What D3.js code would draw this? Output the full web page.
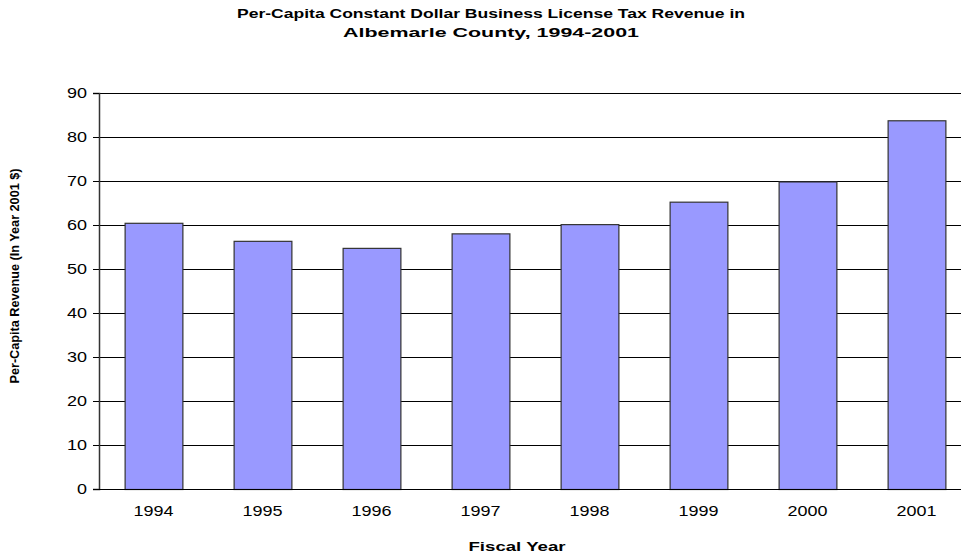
<!DOCTYPE html>
<html><head><meta charset="utf-8">
<script src="https://cdn.jsdelivr.net/npm/d3@7/dist/d3.min.js"></script>
<style>
html,body{margin:0;padding:0;background:#fff;}
svg{display:block;font-family:Arial,"Liberation Sans",sans-serif;}
</style></head>
<body><svg id="c" width="961" height="554"></svg>
<script>
const categories = ["1994","1995","1996","1997","1998","1999","2000","2001"];
const values = [60.5, 56.4, 54.8, 58.1, 60.2, 65.3, 69.9, 83.8];
const yTicks = [0,10,20,30,40,50,60,70,80,90];
const titleLines = ["Per-Capita Constant Dollar Business License Tax Revenue in","Albemarle County, 1994-2001"];
const xTitle = "Fiscal Year";
const yTitle = "Per-Capita Revenue (In Year 2001 $)";

const svg = d3.select("#c");
const pLeft = 99, pRight = 971, pTop = 93, pBottom = 489;
const x = d3.scaleBand().domain(categories).range([pLeft, pRight]).paddingInner(0.47).paddingOuter(0.235);
const y = d3.scaleLinear().domain([0, 90]).range([pBottom, pTop]);

// gridlines
svg.append("g").selectAll("line").data(yTicks.filter(d => d > 0)).join("line")
  .attr("x1", pLeft).attr("x2", pRight)
  .attr("y1", d => Math.round(y(d)) + 0.5).attr("y2", d => Math.round(y(d)) + 0.5)
  .attr("stroke", "#000").attr("stroke-width", 1);

// bars
svg.append("g").selectAll("rect").data(values).join("rect")
  .attr("x", (d, i) => x(categories[i]) + 0.5)
  .attr("y", d => y(d) + 0.5)
  .attr("width", x.bandwidth())
  .attr("height", d => y(0) - y(d))
  .attr("fill", "#9999ff").attr("stroke", "#333").attr("stroke-width", 1.2);

// y axis
const yAxis = svg.append("g").attr("transform", `translate(${pLeft},0)`)
  .call(d3.axisLeft(y).tickValues(yTicks).tickSize(6).tickPadding(6).tickFormat(d3.format("d")));
yAxis.select(".domain").attr("stroke", "#333").attr("stroke-width", 1.5);
yAxis.selectAll(".tick line").attr("stroke", "#000");
yAxis.selectAll(".tick text").attr("font-size", 14).attr("fill", "#000")
  .attr("font-family", "Arial, 'Liberation Sans', sans-serif")
  .attr("textLength", d => String(d).length * 10).attr("lengthAdjust", "spacingAndGlyphs");

// x axis
const xAxis = svg.append("g").attr("transform", `translate(0,${pBottom})`)
  .call(d3.axisBottom(x).tickSize(0).tickPadding(17));
xAxis.select(".domain").attr("stroke", "#000").attr("stroke-width", 1)
  .attr("d", `M${pLeft - 6},0.5H${pRight}`);
xAxis.selectAll(".tick text").attr("font-size", 14).attr("fill", "#000")
  .attr("font-family", "Arial, 'Liberation Sans', sans-serif")
  .attr("textLength", 40).attr("lengthAdjust", "spacingAndGlyphs");

// titles
svg.append("g").selectAll("text").data(titleLines).join("text")
  .attr("x", 491).attr("y", (d, i) => 18 + i * 19)
  .attr("text-anchor", "middle").attr("font-weight", "bold").attr("font-size", 12.5)
  .attr("textLength", (d, i) => i === 0 ? 508 : 296).attr("lengthAdjust", "spacingAndGlyphs")
  .text(d => d);

svg.append("text").attr("x", 517).attr("y", 551).attr("text-anchor", "middle")
  .attr("font-weight", "bold").attr("font-size", 13)
  .attr("textLength", 97).attr("lengthAdjust", "spacingAndGlyphs").text(xTitle);

svg.append("text").attr("transform", "translate(19,276) rotate(-90)")
  .attr("text-anchor", "middle").attr("font-weight", "bold").attr("font-size", 12)
  .attr("textLength", 215).attr("lengthAdjust", "spacingAndGlyphs").text(yTitle);
</script></body></html>
